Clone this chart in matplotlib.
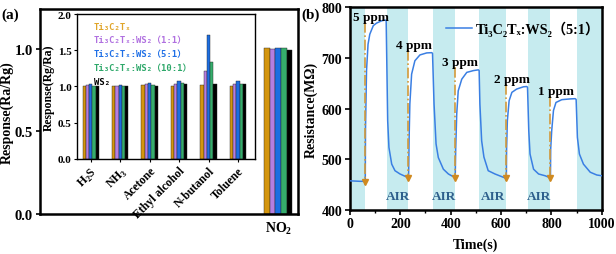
import matplotlib
matplotlib.use('Agg')
import matplotlib.pyplot as plt
import numpy as np

# ---------------- data: panel (a) ----------------
series_names = ['Ti₃C₂Tₓ', 'Ti₃C₂Tₓ:WS₂（1:1）', 'Ti₃C₂Tₓ:WS₂（5:1）',
                'Ti₃C₂Tₓ:WS₂（10:1）', 'WS₂']
bar_colors = ['#D4960F', '#B57EE0', '#1C6EE2', '#35AD6C', '#000000']
legend_colors = ['#E0A52A', '#B070E0', '#1F6FE6', '#2EA86A', '#000000']
inset_gases = ['H$_\\mathregular{2}$S', 'NH$_\\mathregular{3}$', 'Acetone',
               'Ethyl alcohol', 'N-butanol', 'Toluene']
resp_ti3c2tx = [1.00, 1.00, 1.015, 1.005, 1.015, 1.01]
resp_1_1 = [1.015, 1.00, 1.03, 1.035, 1.21, 1.035]
resp_5_1 = [1.03, 1.015, 1.05, 1.08, 1.71, 1.07]
resp_10_1 = [1.01, 1.00, 1.025, 1.045, 1.34, 1.035]
resp_ws2 = [1.01, 1.00, 1.01, 1.03, 1.035, 1.035]
main_gas = ['NO$_\\mathregular{2}$']
no2_response = [1.006, 0.996, 1.006, 1.006, 0.994]

# ---------------- data: panel (b) ----------------
time_s = [0, 20, 40, 58, 60, 61, 62, 66, 72, 79, 93, 106, 126, 139, 144,
          146, 150, 155, 166, 179, 199, 219, 232,
          233, 235, 238, 245, 258, 278, 305, 325, 328,
          334, 342, 351, 371, 391, 411, 417,
          418, 420, 424, 430, 444, 464, 490, 510, 513,
          516, 523, 532, 549, 576, 609, 620,
          621, 622, 625, 632, 643, 662, 689, 702, 705,
          710, 715, 729, 749, 775, 795,
          796, 797, 801, 808, 818, 841, 874, 894, 898,
          903, 911, 927, 954, 980, 1000]
resistance = [457, 456.5, 456, 456, 455, 450, 560, 675, 727, 747, 764, 769, 773.5, 775, 774,
              708, 576, 523, 490, 477, 470.5, 466, 463,
              458, 540, 609, 668, 694.5, 706, 710, 710.5, 709,
              609, 530, 503, 480, 470.5, 465, 463,
              460, 520, 589, 635, 658, 671.5, 675, 676.5, 675,
              609, 536, 504, 477, 470.5, 464, 462,
              458, 520, 576, 615.5, 632, 638.5, 643, 643.5, 642,
              556, 510, 480, 470.5, 467, 463,
              458, 520, 556, 596, 612, 617.5, 619, 619.5, 618,
              543, 510, 490, 474, 468.5, 467]
air_start = [0, 146, 330, 513, 706, 900]
air_end = [60, 232, 417, 620, 795, 1000]
inject_t = [60, 232, 417, 620, 795]
ppm_labels = ['5 ppm', '4 ppm', '3 ppm', '2 ppm', '1 ppm']
b_series = 'Ti₃C₂Tₓ:WS₂（5:1）'

# ---------------- style ----------------
serif = ['Liberation Serif', 'DejaVu Serif', 'Noto Sans CJK SC']
plt.rcParams['font.family'] = serif
plt.rcParams['font.weight'] = 'bold'
plt.rcParams['axes.labelweight'] = 'bold'
plt.rcParams['mathtext.fontset'] = 'custom'
plt.rcParams['mathtext.rm'] = 'Liberation Serif:bold'

fig = plt.figure(figsize=(6.16, 2.55), dpi=100)

# ---------------- panel (a) main ----------------
axA = fig.add_axes([0.065, 0.157, 0.419, 0.804])
w_main = 0.141
no2_pos = len(inset_gases)
for i, (val, c) in enumerate(zip(no2_response, bar_colors)):
    axA.bar(no2_pos + (i - 2) * w_main, val, width=w_main, color=c,
            edgecolor='#222222', linewidth=0.3)
axA.set_xlim(0, 6.5)
axA.set_ylim(0, 1.24)
axA.set_xticks([no2_pos])
axA.set_xticklabels(main_gas, fontsize=10, fontweight='bold')
axA.tick_params(axis='x', length=0, pad=4)
axA.set_yticks([0.0, 0.5, 1.0])
axA.set_yticklabels(['0.0', '0.5', '1.0'], fontsize=10.5, fontweight='bold')
axA.tick_params(axis='y', direction='out', length=3, width=1.2, pad=2)
axA.set_ylabel('Response(Ra/Rg)', fontsize=10, fontweight='bold')
axA.yaxis.set_label_coords(-0.10, 0.5)
for s in axA.spines.values():
    s.set_linewidth(1.8)

# ---------------- panel (a) inset ----------------
ins = fig.add_axes([0.125, 0.373, 0.289, 0.568])
x = np.arange(len(inset_gases))
w = 0.112
all_series = [resp_ti3c2tx, resp_1_1, resp_5_1, resp_10_1, resp_ws2]
handles = []
for i, (vals, c, name) in enumerate(zip(all_series, bar_colors, series_names)):
    h = ins.bar(x + (i - 2) * w, vals, width=w, color=c, label=name,
                edgecolor='#222222', linewidth=0.3)
    handles.append(h)
ins.set_xlim(-0.47, 5.58)
ins.set_ylim(0, 2.0)
ins.set_yticks([0.0, 0.5, 1.0, 1.5, 2.0])
ins.set_yticklabels(['0.0', '0.5', '1.0', '1.5', '2.0'], fontsize=8, fontweight='bold')
ins.set_xticks(x)
ins.set_xticklabels(inset_gases, rotation=45, ha='right', rotation_mode='anchor',
                    fontsize=8.5, fontweight='bold')
ins.tick_params(axis='both', direction='out', length=2.5, width=0.8, pad=1.5)
ins.set_ylabel('Response(Rg/Ra)', fontsize=8.5, fontweight='bold', labelpad=2)
for s in ins.spines.values():
    s.set_linewidth(1.0)
leg = ins.legend(handles=handles, labels=series_names, loc='upper left',
                 bbox_to_anchor=(0.06, 0.99), frameon=False, handlelength=0,
                 handletextpad=0, borderpad=0.2, labelspacing=0.55,
                 prop={'family': ['DejaVu Sans Mono', 'Noto Sans CJK SC'], 'size': 6.4,
                       'weight': 'bold'},
                 labelcolor=legend_colors)
for h in leg.legend_handles:
    h.set_visible(False)

fig.text(0.003, 0.94, '(a)', fontsize=11, fontweight='bold', ha='left', va='center')

# ---------------- panel (b) ----------------
axB = fig.add_axes([0.568, 0.174, 0.409, 0.793])
for a0, a1 in zip(air_start, air_end):
    axB.axvspan(a0, a1, color='#C6EBEF', lw=0, zorder=0)
line, = axB.plot(time_s, resistance, color='#3A7FE3', lw=1.1, label=b_series, zorder=3)

t_arr = np.array(time_s)
r_arr = np.array(resistance)
for k, (t0, lab) in enumerate(zip(inject_t, ppm_labels)):
    t_next = air_start[k + 1]
    seg = r_arr[(t_arr >= t0) & (t_arr <= t_next)]
    peak = seg.max()
    base = np.interp(t0, t_arr, r_arr)
    ly = min(peak + 15, 781)
    axB.text(t0 + 22, ly, lab, fontsize=9.5, fontweight='bold', ha='center', va='center',
             zorder=5)
    axB.plot([t0, t0], [ly - 10, base], color='#D39A3A', lw=1.2, ls='-.', zorder=4)
    axB.plot([t0], [base], marker='v', color='#D08A20', markersize=4, zorder=4)

for a0, a1 in zip(air_start[1:-1], air_end[1:-1]):
    axB.text((a0 + a1) / 2, 427, 'AIR', color='#2E5F8C', fontsize=9.5,
             fontweight='bold', ha='center', va='center')

axB.set_xlim(0, 1000)
axB.set_ylim(400, 800)
axB.set_xticks([0, 200, 400, 600, 800, 1000])
axB.set_xticks([100, 300, 500, 700, 900], minor=True)
axB.set_yticks([400, 500, 600, 700, 800])
axB.tick_params(axis='both', which='major', direction='out', length=3.5, width=1.2,
                labelsize=10, pad=2)
axB.tick_params(axis='x', which='minor', direction='out', length=2, width=1.0)
for lbl in axB.get_xticklabels() + axB.get_yticklabels():
    lbl.set_fontweight('bold')
axB.set_xlabel('Time(s)', fontsize=10, fontweight='bold')
axB.xaxis.set_label_coords(0.5, -0.14)
axB.set_ylabel('Resistance(MΩ)', fontsize=10, fontweight='bold')
axB.yaxis.set_label_coords(-0.127, 0.5)
for s in axB.spines.values():
    s.set_linewidth(1.8)
axB.legend(loc='upper right', bbox_to_anchor=(1.045, 1.0), frameon=False,
           handlelength=1.8, handletextpad=0.3, borderpad=0.4,
           prop={'family': serif, 'size': 10.3, 'weight': 'bold'})

fig.text(0.49, 0.94, '(b)', fontsize=11, fontweight='bold', ha='left', va='center')

fig.savefig('out.png', dpi=100)
